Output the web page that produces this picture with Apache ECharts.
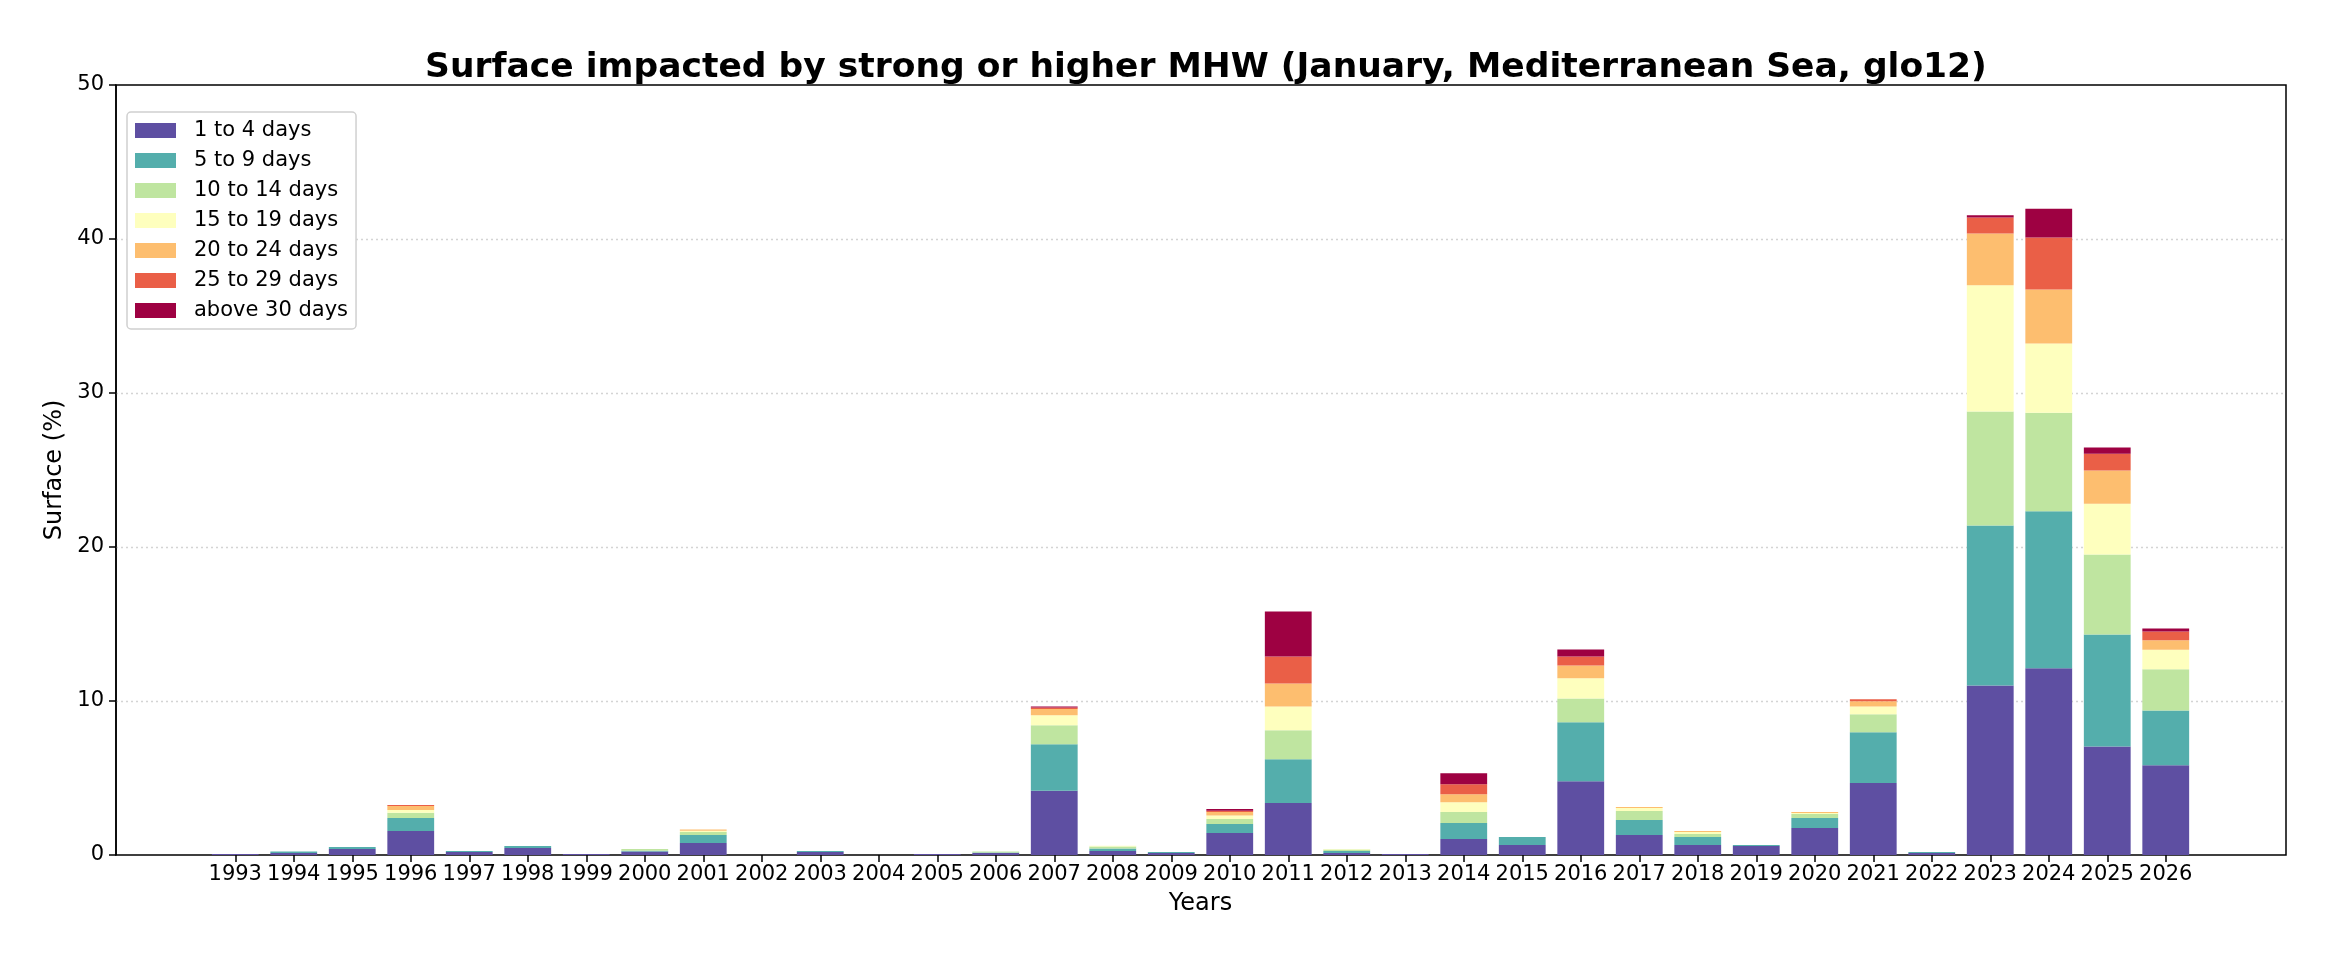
<!DOCTYPE html>
<html><head><meta charset="utf-8">
<script src="https://cdn.jsdelivr.net/npm/echarts@6/dist/echarts.min.js"></script>
<style>html,body{margin:0;padding:0;background:#fff}#c{width:2335px;height:964px}</style>
</head><body><div id="c"></div>
<script>
const years = [1993,1994,1995,1996,1997,1998,1999,2000,2001,2002,2003,2004,2005,2006,2007,2008,2009,2010,2011,2012,2013,2014,2015,2016,2017,2018,2019,2020,2021,2022,2023,2024,2025,2026];
const seriesNames = ['1 to 4 days','5 to 9 days','10 to 14 days','15 to 19 days','20 to 24 days','25 to 29 days','above 30 days'];
const d1to4   = [0.06,0.13,0.39,1.56,0.19,0.45,0.06,0.22,0.78,0,0.19,0,0.06,0.13,4.17,0.26,0.13,1.43,3.37,0.13,0.07,1.04,0.65,4.79,1.30,0.65,0.58,1.75,4.67,0.13,11.0,12.12,7.04,5.83];
const d5to9   = [0,0.09,0.13,0.84,0.07,0.13,0,0.06,0.52,0,0.07,0,0,0.04,3.02,0.17,0.06,0.58,2.85,0.13,0,1.03,0.52,3.83,0.97,0.52,0.07,0.65,3.30,0.06,10.4,10.2,7.28,3.56];
const d10to14 = [0,0,0,0.35,0,0,0,0.11,0.19,0,0,0,0,0.05,1.23,0.13,0,0.32,1.88,0.09,0,0.72,0,1.55,0.58,0.19,0,0.26,1.17,0,7.4,6.4,5.19,2.67];
const d15to19 = [0,0,0,0.17,0,0,0,0,0.09,0,0,0,0,0,0.65,0.04,0,0.24,1.55,0.04,0,0.64,0,1.30,0.20,0.13,0,0.06,0.51,0,8.2,4.5,3.3,1.27];
const d20to24 = [0,0,0,0.26,0,0,0,0,0.07,0,0,0,0,0,0.41,0,0,0.22,1.49,0,0,0.52,0,0.84,0.06,0.07,0,0.07,0.33,0,3.35,3.5,2.15,0.61];
const d25to29 = [0,0,0,0.07,0,0,0,0,0,0,0,0,0,0,0.09,0,0,0.08,1.75,0,0,0.65,0,0.58,0,0,0,0,0.13,0,1.05,3.37,1.1,0.58];
const dAbove30= [0,0,0,0,0,0,0,0,0,0,0,0,0,0,0.08,0,0,0.11,2.92,0,0,0.71,0,0.46,0,0,0,0,0,0,0.15,1.88,0.4,0.18];
const yTicks = [0,10,20,30,40,50];

const allData = [d1to4,d5to9,d10to14,d15to19,d20to24,d25to29,dAbove30];
const colors = ['#5e4fa2','#54aeac','#bfe5a0','#feffbe','#fdbe6f','#ea5f47','#9e0142'];
const FONT = 'DejaVu Sans';

const chart = echarts.init(document.getElementById('c'), null, {renderer:'canvas'});
const series = seriesNames.map((n,i)=>({
  name:n, type:'bar', stack:'total', barCategoryGap:'20%',
  xAxisIndex:1, yAxisIndex:1,
  itemStyle:{color:colors[i]},
  data: allData[i]
}));
const yMin = yTicks[0], yMax = yTicks[yTicks.length-1], yStep = yTicks[1]-yTicks[0];
chart.setOption({
  animation:false,
  backgroundColor:'#fff',
  textStyle:{fontFamily:FONT},
  title:{text:'Surface impacted by strong or higher MHW (January, Mediterranean Sea, glo12)',
    left:1201, top:46, textAlign:'center',
    textStyle:{fontFamily:FONT, fontSize:34.5, fontWeight:'bold', color:'#000'}},
  legend:{orient:'vertical', left:127, top:112, data:seriesNames,
    itemWidth:41, itemHeight:15, itemGap:9, icon:'rect',
    padding:[8,8,8,8], borderColor:'#d0d0d0', borderWidth:1.5, borderRadius:4, backgroundColor:'#fff',
    textStyle:{fontFamily:FONT, fontSize:21, color:'#000', padding:[0,0,0,13]}},
  grid:[
    {left:116, right:49, top:85, bottom:109, show:true, borderColor:'#000', borderWidth:1.5, backgroundColor:'transparent'},
    {left:206, width:1989, top:85, bottom:109, show:false}
  ],
  xAxis:[
    {gridIndex:0, type:'value', min:0, max:1, show:false},
    {gridIndex:1, type:'category', data:years,
     name:'Years', nameLocation:'middle', nameGap:37,
     nameTextStyle:{fontFamily:FONT, fontSize:24, color:'#000'},
     axisLine:{show:false},
     axisTick:{show:true, alignWithLabel:true, interval:0, length:7, lineStyle:{color:'#000', width:1.5}},
     axisLabel:{interval:0, fontFamily:FONT, fontSize:21, color:'#000', margin:9},
     splitLine:{show:false}}
  ],
  yAxis:[
    {gridIndex:0, type:'value', min:yMin, max:yMax, interval:yStep,
     name:'Surface (%)', nameLocation:'middle', nameGap:39, nameRotate:90,
     nameTextStyle:{fontFamily:FONT, fontSize:24, color:'#000'},
     axisLine:{show:true, lineStyle:{color:'#000', width:1.5}},
     axisTick:{show:true, length:7, lineStyle:{color:'#000', width:1.5}},
     axisLabel:{fontFamily:FONT, fontSize:21, color:'#000', margin:12},
     splitLine:{show:true, showMinLine:false, showMaxLine:false, lineStyle:{color:'#d4d4d4', type:[2,3], width:1.3}}},
    {gridIndex:1, type:'value', min:yMin, max:yMax, interval:yStep, show:false, splitLine:{show:false}}
  ],
  series: series
});
</script></body></html>
